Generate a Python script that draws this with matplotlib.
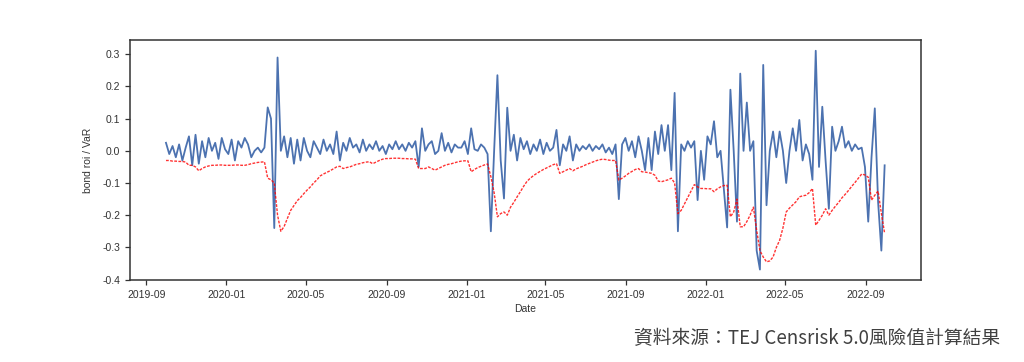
"""Bond ROI vs VaR time series"""
import matplotlib
matplotlib.use('Agg')
import matplotlib.pyplot as plt
import matplotlib.dates as mdates
import pandas as pd

# sampled every 5 days, 2019-10-01 .. 2022-09-30
start_date = '2019-10-01'
step = '5D'

bond_roi = [
    0.025, -0.01, 0.015, -0.02, 0.02, -0.03, 0.01, 0.045, -0.045, 0.05,
    -0.04, 0.03, -0.02, 0.04, 0.0, 0.025, -0.025, 0.04, 0.005, -0.01,
    0.035, -0.03, 0.03, 0.01, 0.04, 0.02, -0.02, 0.0, 0.01, -0.005,
    0.01, 0.135, 0.10, -0.24, 0.29, 0.0, 0.045, -0.02, 0.04, -0.04,
    0.035, -0.03, 0.04, 0.0, -0.02, 0.03, 0.01, -0.01, 0.035, 0.0,
    0.02, -0.01, 0.06, -0.03, 0.025, 0.0, 0.04, 0.01, 0.02, -0.005,
    0.035, 0.0, 0.02, 0.005, 0.03, 0.0, 0.015, -0.01, 0.02, 0.005,
    0.03, 0.005, 0.02, 0.0, 0.025, 0.01, 0.03, -0.05, 0.07, 0.0,
    0.02, 0.03, -0.01, 0.0, 0.055, 0.0, 0.025, -0.005, 0.02, 0.01,
    0.01, 0.03, -0.01, 0.07, 0.005, 0.0, 0.02, 0.01, -0.01, -0.25,
    0.0, 0.235, -0.03, -0.148, 0.134, 0.0, 0.05, -0.03, 0.04, 0.005,
    0.03, -0.01, 0.02, 0.0, 0.035, -0.01, 0.025, 0.0, 0.01, 0.065,
    -0.045, 0.02, 0.0, 0.045, -0.03, 0.02, 0.0, 0.015, 0.005, 0.02,
    0.0, 0.015, 0.005, 0.02, -0.005, 0.01, -0.01, 0.02, -0.15, 0.02,
    0.04, 0.0, 0.03, -0.02, 0.045, 0.0, -0.06, 0.04, -0.06, 0.06,
    -0.01, 0.08, 0.0, 0.08, -0.06, 0.18, -0.25, 0.02, 0.0, 0.03,
    0.01, 0.03, -0.153, 0.0, -0.09, 0.045, 0.02, 0.092, -0.02, 0.0,
    -0.12, -0.238, 0.19, 0.0, -0.22, 0.24, 0.0, 0.15, 0.0, 0.03,
    -0.31, -0.369, 0.267, -0.169, 0.0, 0.06, -0.02, 0.06, 0.0, -0.1,
    0.0, 0.07, 0.0, 0.096, -0.03, 0.02, -0.01, -0.09, 0.311, -0.05,
    0.137, -0.03, -0.18, 0.075, 0.0, 0.03, 0.075, 0.01, 0.03, 0.0,
    0.02, 0.005, 0.01, -0.05, -0.22, -0.02, 0.132, -0.158, -0.31, -0.045,
]

var = [
    -0.03, -0.03, -0.032, -0.032, -0.033, -0.033, -0.035, -0.045, -0.045, -0.05,
    -0.062, -0.055, -0.05, -0.047, -0.045, -0.045, -0.044, -0.044, -0.045, -0.045,
    -0.045, -0.044, -0.044, -0.045, -0.045, -0.043, -0.04, -0.038, -0.036, -0.035,
    -0.034, -0.085, -0.09, -0.1, -0.2, -0.25, -0.235, -0.21, -0.185, -0.17,
    -0.155, -0.145, -0.133, -0.122, -0.112, -0.1, -0.09, -0.078, -0.072, -0.067,
    -0.062, -0.056, -0.05, -0.048, -0.055, -0.052, -0.05, -0.046, -0.042, -0.04,
    -0.037, -0.035, -0.034, -0.04, -0.035, -0.03, -0.026, -0.024, -0.024, -0.023,
    -0.023, -0.023, -0.024, -0.024, -0.025, -0.025, -0.026, -0.055, -0.055, -0.055,
    -0.05, -0.055, -0.06, -0.055, -0.05, -0.045, -0.042, -0.04, -0.037, -0.034,
    -0.032, -0.031, -0.031, -0.065, -0.058, -0.052, -0.048, -0.044, -0.041, -0.08,
    -0.13, -0.205, -0.195, -0.19, -0.2, -0.175, -0.16, -0.143, -0.127, -0.11,
    -0.095, -0.085, -0.077, -0.07, -0.064, -0.058, -0.053, -0.048, -0.043, -0.04,
    -0.07, -0.065, -0.06, -0.055, -0.062, -0.056, -0.052, -0.048, -0.043, -0.039,
    -0.035, -0.031, -0.028, -0.026, -0.027, -0.029, -0.03, -0.03, -0.091, -0.085,
    -0.078, -0.07, -0.064, -0.058, -0.055, -0.065, -0.066, -0.068, -0.07, -0.076,
    -0.094, -0.096, -0.093, -0.09, -0.085, -0.1, -0.195, -0.185, -0.165, -0.145,
    -0.125, -0.105, -0.112, -0.117, -0.117, -0.118, -0.118, -0.127, -0.118, -0.112,
    -0.108, -0.107, -0.205, -0.19, -0.15, -0.236, -0.236, -0.22, -0.2, -0.175,
    -0.247, -0.31, -0.33, -0.345, -0.342, -0.33, -0.3, -0.278, -0.24, -0.19,
    -0.178, -0.168, -0.158, -0.143, -0.14, -0.138, -0.13, -0.117, -0.231, -0.216,
    -0.2, -0.18, -0.2, -0.185, -0.172, -0.16, -0.146, -0.135, -0.123, -0.11,
    -0.098, -0.085, -0.072, -0.075, -0.082, -0.153, -0.138, -0.125, -0.194, -0.257,
]

source_note = '資料來源：TEJ Censrisk 5.0風險值計算結果'

plt.rcParams['axes.unicode_minus'] = False
plt.rcParams['font.family'] = ['Liberation Sans', 'DejaVu Sans']

dates = pd.date_range(start_date, periods=len(bond_roi), freq=step)
df = pd.DataFrame({'bond_roi': bond_roi, 'VaR': var}, index=dates)

fig = plt.figure(figsize=(10.24, 3.62), dpi=100)
ax = fig.add_axes([0.127, 0.226, 0.772, 0.664])

ax.plot(df.index, df['bond_roi'], color='#4C72B0', lw=1.3)
ax.plot(df.index, df['VaR'], color='red', lw=1.0, alpha=0.8,
        linestyle=(0, (2, 1)))

ax.set_ylim(-0.402, 0.345)
ax.set_yticks([-0.4, -0.3, -0.2, -0.1, 0.0, 0.1, 0.2, 0.3])
ax.yaxis.set_major_formatter(matplotlib.ticker.FormatStrFormatter('%.1f'))
ax.xaxis.set_major_locator(mdates.MonthLocator(bymonth=[1, 5, 9]))
ax.xaxis.set_major_formatter(mdates.DateFormatter('%Y-%m'))

for spine in ax.spines.values():
    spine.set_color('#333333')
    spine.set_linewidth(1.1)
ax.tick_params(axis='both', which='major', labelsize=7.5, colors='#333333',
               length=3.5, width=0.9, direction='out')
ax.set_xlabel('Date', fontsize=7.5, color='#333333', labelpad=3)
ax.set_ylabel('bond roi / VaR', fontsize=7.5, color='#333333', labelpad=7)

fig.text(0.977, 0.066, source_note, ha='right', va='center', fontsize=13.5,
         color='#404040', family=['Noto Sans CJK TC', 'DejaVu Sans'])

plt.savefig('out.png', dpi=100)
plt.close()
